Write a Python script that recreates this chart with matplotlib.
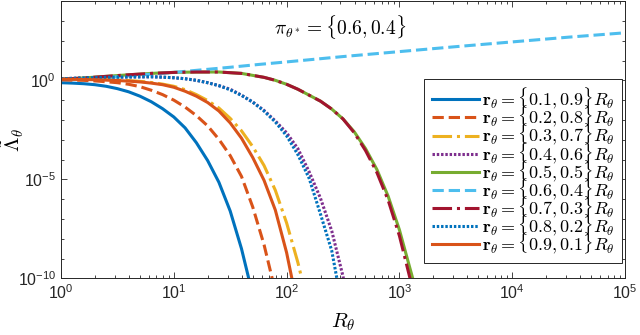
import matplotlib
matplotlib.use("Agg")
import matplotlib.pyplot as plt
import numpy as np
from matplotlib.ticker import FixedLocator, NullFormatter, LogLocator

plt.rcParams['font.family'] = ['Liberation Sans', 'DejaVu Sans']
plt.rcParams['mathtext.fontset'] = 'cm'
plt.rcParams['axes.unicode_minus'] = False

# values, stored as log10(R) and log10(Lambda)
logR_01 = [0, 0.1, 0.2, 0.3, 0.4, 0.5, 0.6, 0.7, 0.8, 0.9, 1.0, 1.1, 1.2, 1.3, 1.4, 1.5, 1.6, 1.66, 1.7]
logL_01 = [-0.12, -0.14, -0.17, -0.22, -0.3, -0.42, -0.58, -0.8, -1.08, -1.43, -1.85, -2.4, -3.15,
           -4.05, -5.15, -6.6, -8.5, -9.9, -10.9]

logR_02 = [0, 0.1, 0.2, 0.3, 0.4, 0.5, 0.6, 0.7, 0.8, 0.9, 1.0, 1.1, 1.2, 1.3, 1.4, 1.5, 1.6, 1.7, 1.8,
           1.87, 1.9]
logL_02 = [0.02, 0.01, 0.0, -0.03, -0.07, -0.12, -0.2, -0.32, -0.5, -0.72, -1.0, -1.35, -1.78, -2.3,
           -2.98, -3.8, -4.85, -6.4, -8.3, -9.95, -10.7]

logR_03 = [0, 0.2, 0.4, 0.5, 0.6, 0.7, 0.8, 0.9, 1.0, 1.1, 1.2, 1.3, 1.4, 1.5, 1.6, 1.7, 1.8, 1.9, 2.0,
           2.1, 2.134, 2.16]
logL_03 = [0.07, 0.06, 0.04, 0.02, -0.01, -0.05, -0.11, -0.19, -0.3, -0.47, -0.72, -1.02, -1.4, -1.92,
           -2.55, -3.35, -4.3, -5.55, -7.2, -9.2, -10.0, -10.7]

logR_04 = [0, 0.2, 0.4, 0.6, 0.8, 0.9, 1.0, 1.1, 1.2, 1.3, 1.4, 1.5, 1.6, 1.7, 1.8, 1.9, 2.0, 2.1, 2.2,
           2.3, 2.4, 2.5, 2.53]
logL_04 = [0.08, 0.12, 0.15, 0.17, 0.18, 0.16, 0.13, 0.08, 0.0, -0.12, -0.27, -0.45, -0.75, -1.1,
           -1.52, -2.05, -2.65, -3.45, -4.62, -5.95, -7.6, -9.9, -10.8]

logR_05 = [0, 0.2, 0.4, 0.6, 0.8, 1.0, 1.2, 1.4, 1.6, 1.8, 1.9, 2.0, 2.1, 2.2, 2.3, 2.4, 2.5, 2.6, 2.7,
           2.8, 2.9, 3.0, 3.118, 3.14]
logL_05 = [0.05, 0.12, 0.2, 0.28, 0.35, 0.4, 0.42, 0.42, 0.35, 0.15, 0.0, -0.2, -0.45, -0.75, -1.05,
           -1.45, -1.95, -2.6, -3.45, -4.5, -5.85, -7.55, -10.0, -10.6]

logR_06 = [0, 0.25, 0.5, 0.75, 1.0, 1.25, 1.5, 1.75, 2.0, 2.5, 3.0, 3.5, 4.0, 4.5, 5.0]
logL_06 = [0.03, 0.08, 0.18, 0.29, 0.4, 0.53, 0.66, 0.8, 0.93, 1.2, 1.45, 1.7, 1.94, 2.18, 2.4]

logR_07 = [0, 0.2, 0.4, 0.6, 0.8, 1.0, 1.2, 1.4, 1.6, 1.8, 1.9, 2.0, 2.1, 2.2, 2.3, 2.4, 2.5, 2.6, 2.7,
           2.8, 2.9, 3.0, 3.094, 3.12]
logL_07 = [0.05, 0.12, 0.2, 0.28, 0.35, 0.4, 0.42, 0.42, 0.35, 0.15, 0.0, -0.2, -0.45, -0.75, -1.05,
           -1.45, -1.95, -2.65, -3.55, -4.65, -6.05, -7.85, -10.0, -10.7]

logR_08 = [0, 0.2, 0.4, 0.6, 0.8, 0.9, 1.0, 1.1, 1.2, 1.3, 1.4, 1.5, 1.6, 1.7, 1.8, 1.9, 2.0, 2.1, 2.2,
           2.3, 2.4, 2.444, 2.47]
logL_08 = [0.08, 0.12, 0.15, 0.17, 0.18, 0.16, 0.13, 0.08, 0.0, -0.12, -0.27, -0.48, -0.76, -1.1,
           -1.55, -2.1, -2.8, -3.75, -4.95, -6.75, -8.6, -9.95, -10.8]

logR_09 = [0, 0.1, 0.2, 0.3, 0.4, 0.5, 0.6, 0.7, 0.8, 0.9, 1.0, 1.1, 1.2, 1.3, 1.4, 1.5, 1.6, 1.7, 1.8,
           1.9, 2.0, 2.045, 2.07]
logL_09 = [0.05, 0.05, 0.04, 0.03, 0.01, -0.01, -0.04, -0.08, -0.14, -0.22, -0.35, -0.55, -0.8, -1.12,
           -1.55, -2.15, -2.92, -3.9, -5.05, -6.55, -8.7, -9.95, -10.7]

labels = [r'$\mathbf{r}_\theta = \{0.1, 0.9\}R_\theta$',
          r'$\mathbf{r}_\theta = \{0.2, 0.8\}R_\theta$',
          r'$\mathbf{r}_\theta = \{0.3, 0.7\}R_\theta$',
          r'$\mathbf{r}_\theta = \{0.4, 0.6\}R_\theta$',
          r'$\mathbf{r}_\theta = \{0.5, 0.5\}R_\theta$',
          r'$\mathbf{r}_\theta = \{0.6, 0.4\}R_\theta$',
          r'$\mathbf{r}_\theta = \{0.7, 0.3\}R_\theta$',
          r'$\mathbf{r}_\theta = \{0.8, 0.2\}R_\theta$',
          r'$\mathbf{r}_\theta = \{0.9, 0.1\}R_\theta$']

xs = [logR_01, logR_02, logR_03, logR_04, logR_05, logR_06, logR_07, logR_08, logR_09]
ys = [logL_01, logL_02, logL_03, logL_04, logL_05, logL_06, logL_07, logL_08, logL_09]

colors = ['#0072BD', '#D95319', '#EDB120', '#7E2F8E', '#77AC30',
          '#4DBEEE', '#A2142F', '#0072BD', '#D95319']
dotted = (0, (0.8, 0.6))
styles = ['-', '--', '-.', dotted, '-', '--', '-.', dotted, '-']

fig = plt.figure(figsize=(6.4, 3.35), dpi=100)
ax = fig.add_axes([0.0953, 0.169, 0.8813, 0.8277])

for i in range(9):
    ax.plot(10 ** np.array(xs[i]), 10 ** np.array(ys[i]), linestyle=styles[i],
            color=colors[i], lw=2.2, label=labels[i])

ax.set_xscale('log')
ax.set_yscale('log')
ax.set_xlim(1, 1e5)
ax.set_ylim(1e-10, 1e4)

ax.yaxis.set_major_locator(FixedLocator([1e-10, 1e-5, 1e0]))
ax.yaxis.set_minor_locator(FixedLocator([10.0 ** k for k in range(-9, 5) if k not in (-5, 0)]))
ax.yaxis.set_minor_formatter(NullFormatter())
ax.xaxis.set_major_locator(LogLocator(base=10, numticks=10))
ax.xaxis.set_minor_locator(LogLocator(base=10, subs=np.arange(2, 10), numticks=20))
ax.xaxis.set_minor_formatter(NullFormatter())

ax.tick_params(which='both', direction='in', top=True, right=True, colors='#262626',
               labelsize=11.5, width=0.6)
ax.tick_params(which='major', length=4.5)
ax.tick_params(which='minor', length=2.5)
for s in ax.spines.values():
    s.set_color('#262626')
    s.set_linewidth(0.7)

ax.set_xlabel(r'$R_\theta$', fontsize=15, labelpad=7)
ax.set_ylabel(r'$\tilde{\Lambda}_\theta$', fontsize=15)
ax.yaxis.set_label_coords(-0.062, 0.5)

ax.text(0.495, 0.905, r'$\pi_{\theta^*} = \{0.6, 0.4\}$', transform=ax.transAxes,
        ha='center', va='center', fontsize=14)

leg = ax.legend(loc='lower right', bbox_to_anchor=(0.995, 0.055), borderaxespad=0,
                fontsize=13, handlelength=2.6, handletextpad=0.2, labelspacing=-0.4,
                fancybox=False, framealpha=1, edgecolor='#262626', borderpad=0.4)
leg.get_frame().set_linewidth(0.7)

fig.savefig('out.png', dpi=100)
